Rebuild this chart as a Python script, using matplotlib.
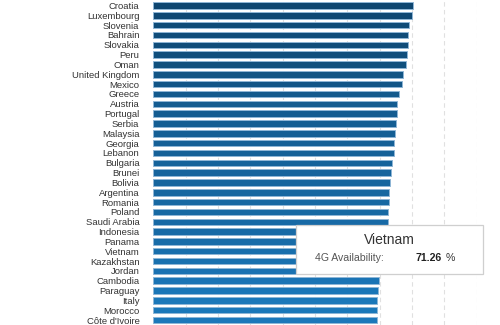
import matplotlib
matplotlib.use("Agg")
import matplotlib.pyplot as plt
from matplotlib.colors import LinearSegmentedColormap, Normalize
from matplotlib.patches import Rectangle
import numpy as np

countries = ["Croatia", "Luxembourg", "Slovenia", "Bahrain", "Slovakia", "Peru", "Oman",
             "United Kingdom", "Mexico", "Greece", "Austria", "Portugal", "Serbia", "Malaysia",
             "Georgia", "Lebanon", "Bulgaria", "Brunei", "Bolivia", "Argentina", "Romania",
             "Poland", "Saudi Arabia", "Indonesia", "Panama", "Vietnam", "Kazakhstan", "Jordan",
             "Cambodia", "Paraguay", "Italy", "Morocco", "Côte d'Ivoire"]
availability = [80.4, 79.9, 79.1, 78.8, 78.8, 78.5, 78.2, 77.1, 76.9, 75.9, 75.4, 75.4, 75.0,
                74.7, 74.4, 74.3, 73.9, 73.6, 73.3, 73.0, 72.8, 72.6, 72.4, 72.2, 71.8, 71.26,
                70.8, 70.4, 69.9, 69.6, 69.2, 69.2, 69.1]
x_ticks = [10, 20, 30, 40, 50, 60, 70, 80, 90, 100]
tooltip_country = "Vietnam"
tooltip_label = "4G Availability:"

plt.rcParams['font.family'] = ['Liberation Sans', 'DejaVu Sans']

W, H = 500, 325
fig = plt.figure(figsize=(W / 100, H / 100), dpi=100)
fig.patch.set_facecolor('white')

x0, x100 = 153.3, 476.8
row0, step = 5.5, 9.83
ax = fig.add_axes([x0 / W, 0, (x100 - x0) / W, 1])
ax.set_xlim(0, 100)
ax.set_ylim((H - row0) / step, -row0 / step)

for t in x_ticks:
    ax.axvline(t, color='#e0e0e0', lw=0.8, ls=(0, (4, 3)), zorder=0)

cmap = LinearSegmentedColormap.from_list('b', ['#1b78ba', '#0e4670'])
norm = Normalize(vmin=min(availability), vmax=max(availability))
y = np.arange(len(countries))
colors = [cmap(norm(v)) for v in availability]
ax.barh(y, availability, height=0.66, color=colors, edgecolor='#8fb6d6', linewidth=0.7, zorder=2)

ax.set_yticks(y)
ax.set_yticklabels(countries, fontsize=6.8, color='#333333')
ax.tick_params(axis='y', length=0, pad=10)
ax.set_xticks([])
for s in ax.spines.values():
    s.set_visible(False)

# tooltip
bx0, bx1, by0, by1 = 296, 482.5, 224.5, 273.5
fig.patches.append(Rectangle((bx0 / W + 0.002, 1 - by1 / H - 0.004), (bx1 - bx0) / W, (by1 - by0) / H,
                             transform=fig.transFigure, facecolor='#eeeeee', edgecolor='none',
                             zorder=9))
fig.patches.append(Rectangle((bx0 / W, 1 - by1 / H), (bx1 - bx0) / W, (by1 - by0) / H,
                             transform=fig.transFigure, facecolor='white', edgecolor='#cfcfcf',
                             linewidth=0.9, zorder=10))
val = availability[countries.index(tooltip_country)]
fig.text(389 / W, 1 - 240 / H, tooltip_country, ha='center', va='center', fontsize=10,
         color='#333333', zorder=11)
fig.text(315 / W, 1 - 258 / H, tooltip_label, ha='left', va='center', fontsize=7.6,
         color='#555555', zorder=11)
fig.text(416 / W, 1 - 258 / H, f"{val:.2f}", ha='left', va='center', fontsize=7.6,
         color='#222222', fontweight='bold', zorder=11)
fig.text(455.5 / W, 1 - 258 / H, "%", ha='right', va='center', fontsize=7.6,
         color='#333333', zorder=11)

fig.savefig('out.png', dpi=100, facecolor='white')
